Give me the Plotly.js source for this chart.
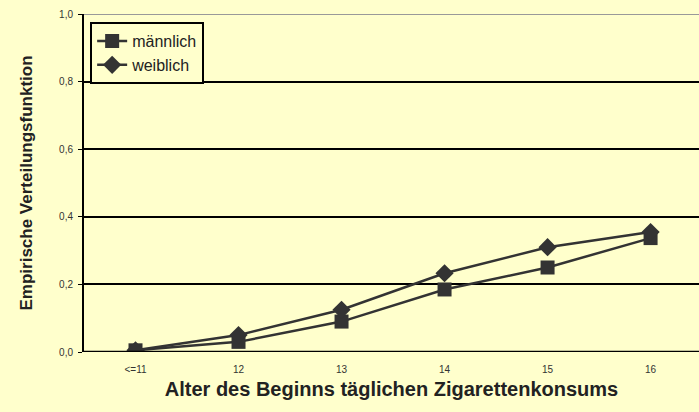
<!DOCTYPE html>
<html><head><meta charset="utf-8">
<script src="https://cdn.plot.ly/plotly-3.0.1.min.js"></script>
<style>html,body{margin:0;padding:0;background:#FFFFCC;}</style>
</head><body>
<div id="chart" style="width:699px;height:412px;"></div>
<script>
var categories = ["<=11", "12", "13", "14", "15", "16"];
var maennlich = [0.005, 0.03, 0.09, 0.185, 0.25, 0.337];
var weiblich = [0.005, 0.05, 0.125, 0.233, 0.31, 0.355];
var yTickVals = [0, 0.2, 0.4, 0.6, 0.8, 1.0];
var yTickText = ["0,0", "0,2", "0,4", "0,6", "0,8", "1,0"];

var lineColor = "#333333";
var traces = [
  {x: categories, y: maennlich, name: "männlich", type: "scatter", mode: "lines+markers",
   line: {color: lineColor, width: 2.5}, marker: {symbol: "square", size: 14, color: lineColor}},
  {x: categories, y: weiblich, name: "weiblich", type: "scatter", mode: "lines+markers",
   line: {color: lineColor, width: 2.5}, marker: {symbol: "diamond", size: 14, color: lineColor}}
];
var layout = {
  width: 699, height: 412,
  paper_bgcolor: "#FFFFCC", plot_bgcolor: "#FFFFCC",
  separators: ",.",
  margin: {l: 84, r: 0, t: 14, b: 60},
  font: {family: "Liberation Sans, Arial, sans-serif", color: "#222"},
  showlegend: true,
  legend: {x: 0.01, y: 0.976, xanchor: "left", yanchor: "top", bgcolor: "#FFFFCC",
    bordercolor: "#000", borderwidth: 2, font: {size: 16, color: "#222"}, tracegroupgap: 0},
  xaxis: {type: "category", range: [-0.5, 5.47], showgrid: false, zeroline: false,
    showline: false, ticks: "", tickfont: {size: 10, color: "#333"}, ticklabelstandoff: 10,
    title: {text: "<b>Alter des Beginns täglichen Zigarettenkonsums</b>", font: {size: 20, color: "#222"}, standoff: 7}},
  yaxis: {range: [0, 1], tickvals: yTickVals, ticktext: yTickText, showgrid: true,
    gridcolor: "#000", gridwidth: 1.5, zeroline: false, showline: true, linecolor: "#000", linewidth: 2,
    ticks: "outside", ticklen: 4, tickcolor: "#000", tickfont: {size: 10, color: "#333"}, ticklabelstandoff: 3,
    title: {text: "<b>Empirische Verteilungsfunktion</b>", font: {size: 17, color: "#222"}, standoff: 22}},
  shapes: [
    {type: "line", xref: "paper", yref: "y", x0: 0, x1: 1, y0: 1, y1: 1, line: {color: "#999", width: 2}},
    {type: "line", xref: "paper", yref: "y", x0: 0, x1: 1, y0: 0, y1: 0, line: {color: "#000", width: 2.5}}
  ]
};
Plotly.newPlot("chart", traces, layout, {displayModeBar: false});
</script>
</body></html>
